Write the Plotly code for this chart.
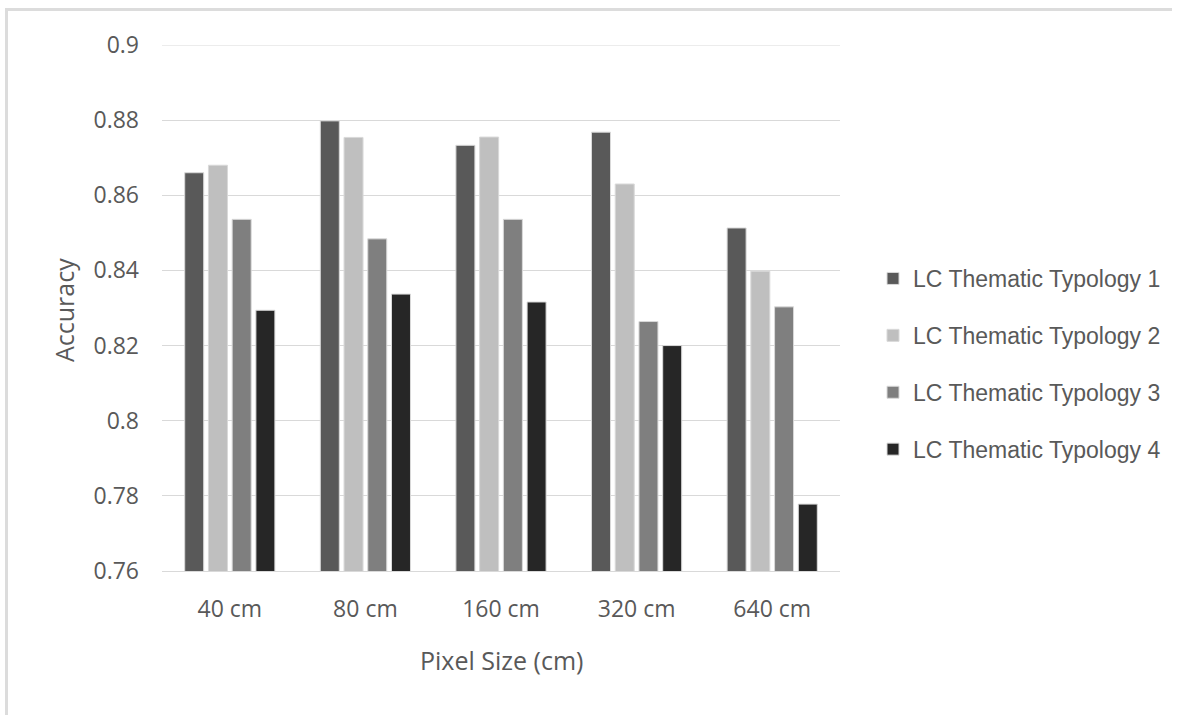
import plotly.graph_objects as go

categories = ["40 cm", "80 cm", "160 cm", "320 cm", "640 cm"]
series_names = ["LC Thematic Typology 1", "LC Thematic Typology 2",
                "LC Thematic Typology 3", "LC Thematic Typology 4"]
typology_1 = [0.866, 0.8798, 0.8733, 0.8768, 0.8513]
typology_2 = [0.868, 0.8754, 0.8755, 0.8630, 0.8398]
typology_3 = [0.8536, 0.8484, 0.8536, 0.8264, 0.8303]
typology_4 = [0.8294, 0.8337, 0.8316, 0.8200, 0.7778]
colors = ["#595959", "#bfbfbf", "#7f7f7f", "#262626"]
y_ticks = [0.76, 0.78, 0.8, 0.82, 0.84, 0.86, 0.88, 0.9]
y_tick_text = ["0.76", "0.78", "0.8", "0.82", "0.84", "0.86", "0.88", "0.9"]

W, H = 1177, 715
L, R, T, B = 162, 840, 45, 571

fig = go.Figure()
for i, (name, vals) in enumerate(zip(series_names, [typology_1, typology_2, typology_3, typology_4])):
    fig.add_trace(go.Bar(
        x=categories, y=vals, name=name, legendgroup=f"g{i}",
        marker=dict(color=colors[i], line=dict(color="#d9d9d9", width=1)),
    ))

def px_x(p):
    return (p - L) / (R - L)

def px_y(p):
    return (B - p) / (B - T)

tick_font = dict(family="Open Sans, Liberation Sans, sans-serif", size=23, color="#595959")

fig.update_layout(
    width=W, height=H,
    margin=dict(l=L, r=W - R, t=T, b=H - B, autoexpand=False),
    paper_bgcolor="white", plot_bgcolor="white",
    barmode="group", bargap=0.3, bargroupgap=0.2,
    showlegend=True,
    legend=dict(
        x=px_x(873), xanchor="left", y=px_y(364), yanchor="middle",
        font=dict(family="Liberation Sans, Arial, sans-serif", size=23, color="#595959"),
        tracegroupgap=24, bgcolor="rgba(0,0,0,0)",
    ),
    xaxis=dict(
        showgrid=False, showline=True, linecolor="#d9d9d9", linewidth=1,
        tickfont=tick_font, ticks="", ticklabelstandoff=17, zeroline=False,
    ),
    yaxis=dict(
        range=[0.76, 0.9], tickvals=y_ticks, ticktext=y_tick_text,
        showgrid=True, gridcolor="#d9d9d9", gridwidth=1, zeroline=False,
        tickfont=tick_font, ticks="", ticklabelstandoff=22, showline=False,
    ),
    annotations=[
        dict(text="Accuracy", xref="paper", yref="paper", x=px_x(64), y=px_y(310),
             xanchor="center", yanchor="middle", textangle=-90, showarrow=False,
             font=dict(family="Open Sans, Liberation Sans, sans-serif", size=25, color="#595959")),
        dict(text="Pixel Size (cm)", xref="paper", yref="paper", x=px_x(501), y=px_y(660),
             xanchor="center", yanchor="middle", showarrow=False,
             font=dict(family="Open Sans, Liberation Sans, sans-serif", size=25, color="#595959")),
    ],
    shapes=[
        dict(type="line", xref="paper", yref="y", x0=0, x1=1, y0=y_ticks[-1], y1=y_ticks[-1],
             line=dict(color="#d9d9d9", width=1), layer="below"),
        dict(type="line", xref="paper", yref="paper", x0=px_x(6.5), x1=px_x(6.5),
             y0=px_y(9), y1=px_y(716), line=dict(color="#dcdcdc", width=3)),
        dict(type="line", xref="paper", yref="paper", x0=px_x(5), x1=px_x(1172),
             y0=px_y(9.5), y1=px_y(9.5), line=dict(color="#dcdcdc", width=3)),
    ],
)

fig.write_html("out.html", config={"displayModeBar": False},
               post_script="document.body.style.margin='0';document.body.style.overflow='hidden';")
